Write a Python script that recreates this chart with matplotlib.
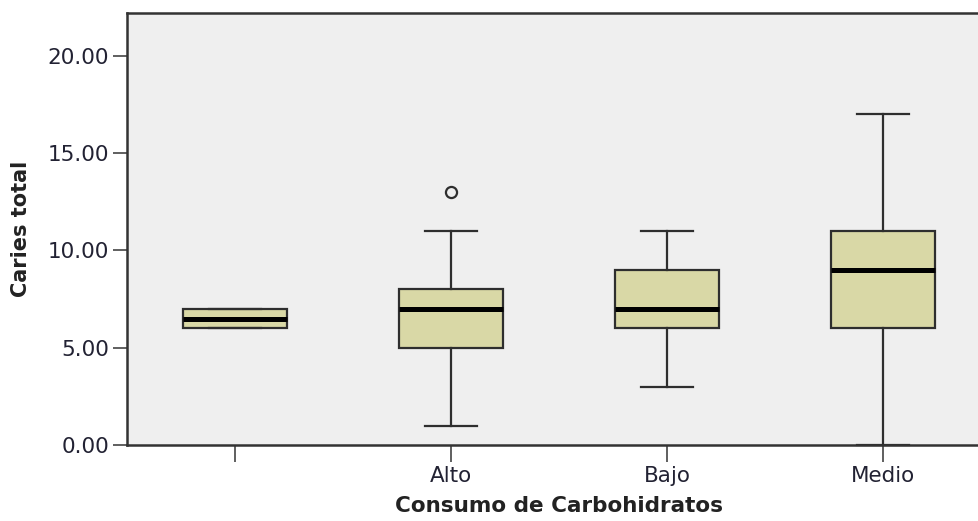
import matplotlib.pyplot as plt

# boxplot summary per group: Caries total by carbohydrate intake
groups = ["", "Alto", "Bajo", "Medio"]
q1 = [6.0, 5.0, 6.0, 6.0]
med = [6.5, 7.0, 7.0, 9.0]
q3 = [7.0, 8.0, 9.0, 11.0]
whislo = [6.0, 1.0, 3.0, 0.0]
whishi = [7.0, 11.0, 11.0, 17.0]
outliers = [[], [13.0], [], []]

stats = []
for i in range(len(groups)):
    stats.append(dict(label=groups[i], q1=q1[i], med=med[i], q3=q3[i],
                      whislo=whislo[i], whishi=whishi[i], fliers=outliers[i]))

fig = plt.figure(figsize=(9.79, 5.21), dpi=100)
ax = fig.add_axes([0.1297, 0.1459, 0.8825, 0.829])
ax.set_facecolor("#efefef")

edge = "#2e2e2e"
bp = ax.bxp(stats, positions=range(len(groups)), widths=0.48, patch_artist=True,
            showfliers=True,
            boxprops=dict(facecolor="#d9d8a6", edgecolor=edge, linewidth=1.6),
            medianprops=dict(color="black", linewidth=3.6, solid_capstyle="butt"),
            whiskerprops=dict(color=edge, linewidth=1.6),
            capprops=dict(color=edge, linewidth=1.6),
            capwidths=0.24,
            flierprops=dict(marker="o", markersize=8, markerfacecolor="none",
                            markeredgecolor=edge, markeredgewidth=1.6))
for art in bp["caps"] + bp["whiskers"]:
    art.set_clip_on(False)

ax.set_xlim(-0.5, 3.5)
ax.set_ylim(0, 22.2)
ax.set_yticks([0, 5, 10, 15, 20])
ax.set_yticklabels(["0.00", "5.00", "10.00", "15.00", "20.00"])
ax.set_xticks(range(len(groups)))
ax.set_xticklabels(groups)

for side in ["left", "bottom", "top"]:
    ax.spines[side].set_linewidth(1.8)
    ax.spines[side].set_color("#333333")
ax.spines["right"].set_visible(False)

ax.tick_params(axis="y", length=10, width=1.2, color="#444444", labelsize=15.5,
               labelcolor="#222233", pad=3)
ax.tick_params(axis="x", length=12, width=1.2, color="#444444", labelsize=15.5,
               labelcolor="#222233", pad=3)

ax.set_ylabel("Caries total", fontsize=15, fontweight="bold", color="#222222", labelpad=12)
ax.set_xlabel("Consumo de Carbohidratos", fontsize=15.5, fontweight="bold", color="#222222",
              labelpad=7)

fig.savefig("out.png", dpi=100)
